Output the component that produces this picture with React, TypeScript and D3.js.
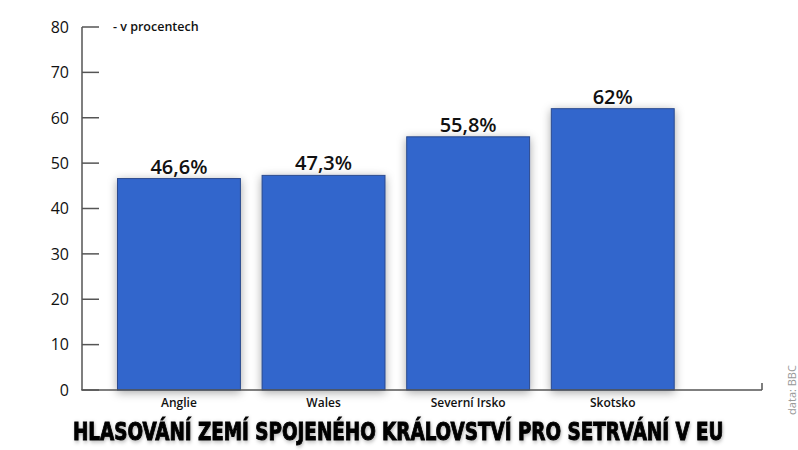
import React, { useEffect, useRef } from "react";
import * as d3 from "d3";

const width = 798;
const height = 450;

const categories = ["Anglie", "Wales", "Severní Irsko", "Skotsko"];
const values = [46.6, 47.3, 55.8, 62];
const valueLabels = ["46,6%", "47,3%", "55,8%", "62%"];
const yTicks = [0, 10, 20, 30, 40, 50, 60, 70, 80];

const title = "HLASOVÁNÍ ZEMÍ SPOJENÉHO KRÁLOVSTVÍ PRO SETRVÁNÍ V EU";
const unitNote = "- v procentech";
const source = "data: BBC";

const axisX = 82;
const axisEnd = 762;
const titleWidth = 651;

export default function App() {
    const ref = useRef<SVGSVGElement>(null);

    useEffect(() => {
        const svg = d3.select(ref.current);
        svg.selectAll("*").remove();

        const y = d3.scaleLinear().domain([0, 80]).range([390, 27]);
        const x = d3.scaleBand<string>()
            .domain(categories)
            .range([95.8, 695.9])
            .paddingInner(0.15)
            .paddingOuter(0.15);

        const defs = svg.append("defs");
        defs.append("filter")
            .attr("id", "barShadow")
            .attr("x", "-20%").attr("y", "-20%")
            .attr("width", "140%").attr("height", "140%")
            .append("feDropShadow")
            .attr("dx", 0).attr("dy", 2)
            .attr("stdDeviation", 5)
            .attr("flood-color", "#000")
            .attr("flood-opacity", 0.35);
        defs.append("filter")
            .attr("id", "textGlow")
            .attr("x", "-5%").attr("y", "-30%")
            .attr("width", "110%").attr("height", "150%")
            .append("feDropShadow")
            .attr("dx", 1).attr("dy", 1.5)
            .attr("stdDeviation", 2)
            .attr("flood-color", "#000")
            .attr("flood-opacity", 0.3);

        const font = "'Open Sans', sans-serif";

        // bars
        svg.append("g")
            .selectAll("rect")
            .data(categories)
            .join("rect")
            .attr("x", d => x(d)!)
            .attr("y", (d, i) => y(values[i]))
            .attr("width", x.bandwidth())
            .attr("height", (d, i) => y(0) - y(values[i]))
            .attr("fill", "#3366cc")
            .attr("stroke", "#2a4a8e")
            .attr("stroke-width", 1)
            .attr("filter", "url(#barShadow)");

        // value labels
        svg.append("g")
            .attr("font-family", font)
            .attr("font-size", 20)
            .attr("font-weight", 600)
            .attr("text-anchor", "middle")
            .selectAll("text")
            .data(categories)
            .join("text")
            .attr("x", d => x(d)! + x.bandwidth() / 2)
            .attr("y", (d, i) => y(values[i]) - 5)
            .attr("fill", "#111")
            .text((d, i) => valueLabels[i]);

        // axes
        const axis = svg.append("g").attr("stroke", "#555").attr("stroke-width", 1.5);
        axis.append("line")
            .attr("x1", axisX).attr("x2", axisX)
            .attr("y1", y(80)).attr("y2", y(0));
        axis.append("line")
            .attr("x1", axisX - 0.75).attr("x2", axisEnd)
            .attr("y1", y(0)).attr("y2", y(0));
        axis.append("line")
            .attr("x1", axisEnd).attr("x2", axisEnd)
            .attr("y1", y(0) - 7).attr("y2", y(0));
        axis.selectAll("line.tick")
            .data(yTicks)
            .join("line")
            .attr("class", "tick")
            .attr("x1", axisX).attr("x2", axisX + 17)
            .attr("y1", d => y(d)).attr("y2", d => y(d));

        svg.append("g")
            .attr("font-family", font)
            .attr("font-size", 16)
            .attr("text-anchor", "end")
            .selectAll("text")
            .data(yTicks)
            .join("text")
            .attr("x", 69)
            .attr("y", d => y(d))
            .attr("dy", "0.36em")
            .attr("fill", "#111")
            .text(d => d);

        // category labels
        svg.append("g")
            .attr("font-family", font)
            .attr("font-size", 12)
            .attr("font-weight", 600)
            .attr("text-anchor", "middle")
            .selectAll("text")
            .data(categories)
            .join("text")
            .attr("x", d => x(d)! + x.bandwidth() / 2)
            .attr("y", 407)
            .attr("fill", "#111")
            .text(d => d);

        svg.append("text")
            .attr("x", 113)
            .attr("y", 31)
            .attr("font-family", font)
            .attr("font-size", 12.5)
            .attr("font-weight", 600)
            .attr("fill", "#111")
            .text(unitNote);

        svg.append("text")
            .attr("transform", "translate(796,390) rotate(-90)")
            .attr("text-anchor", "middle")
            .attr("font-family", font)
            .attr("font-size", 11)
            .attr("fill", "#999")
            .text(source);

        // title: measured, then squeezed horizontally to the reference width
        const titleText = svg.append("text")
            .attr("x", 0)
            .attr("y", 0)
            .attr("font-family", "'DejaVu Sans Condensed', 'DejaVu Sans', sans-serif")
            .attr("font-size", 25)
            .attr("font-weight", 700)
            .attr("fill", "#000")
            .attr("stroke", "#000")
            .attr("stroke-width", 0.9)
            .attr("filter", "url(#textGlow)")
            .text(title);
        const natural = (titleText.node() as SVGTextElement).getComputedTextLength() || titleWidth;
        titleText.attr("transform", `translate(73,440) scale(${titleWidth / natural},1)`);
    }, []);

    return (
        <svg ref={ref} width={width} height={height}
            style={{ position: "absolute", left: 0, top: 0, background: "#fff" }} />
    );
}
